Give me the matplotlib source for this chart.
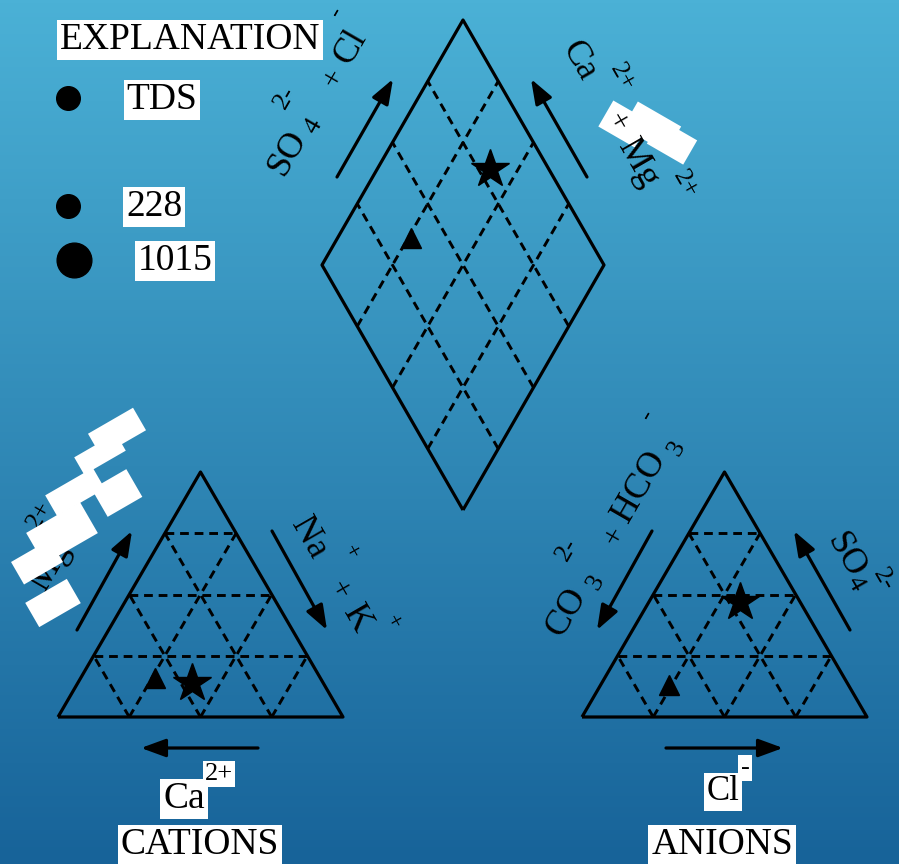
import numpy as np
import matplotlib.pyplot as plt
from matplotlib.patches import Polygon

plt.rcParams['font.family'] = ['Liberation Serif', 'DejaVu Serif']

# ---- data (percent of meq) ----
ca = [58, 46]
mg = [16, 14]
na_k = [26, 40]
hco3 = [63, 21]
so4 = [13, 47]
cl = [24, 32]
sample_markers = ['^', '*']
sample_ms = [14, 29]

tds_labels = ['228', '1015']
tds_ms = [17, 25]

# ---- layout (pixel space) ----
W, H = 285, 245
cat_origin = (58, 717)
an_origin = (582, 717)
dia_bottom = (463, 510)
DW = 141
fracs = [0.25, 0.5, 0.75]


def tri_xy(origin, right, top):
    right = np.asarray(right, float)
    top = np.asarray(top, float)
    return origin[0] + W * (right + top / 2), origin[1] - H * top


def dia_xy(a, c):
    a = np.asarray(a, float)
    c = np.asarray(c, float)
    return dia_bottom[0] + DW * (a - c), dia_bottom[1] - H * (a + c)


fig = plt.figure(figsize=(8.99, 8.64), dpi=100)
ax = fig.add_axes([0, 0, 1, 1])
ax.set_xlim(0, 899)
ax.set_ylim(864, 0)
ax.axis('off')

# background gradient
top_c = np.array([75, 177, 214]) / 255
bot_c = np.array([23, 99, 153]) / 255
t = np.linspace(0, 1, 256)[:, None, None]
grad = top_c * (1 - t) + bot_c * t
grad = np.repeat(grad, 2, axis=1)
ax.imshow(grad, extent=[0, 899, 864, 0], aspect='auto', zorder=0)

solid = dict(color='k', lw=2.3, zorder=3, solid_capstyle='butt')
dash = dict(color='k', lw=2.1, ls=(0, (3, 2)), zorder=2)

# triangles
for org in [cat_origin, an_origin]:
    xs, ys = tri_xy(org, [0, 1, 0, 0], [0, 0, 1, 0])
    ax.plot(xs, ys, **solid)
    for f in fracs:
        x, y = tri_xy(org, [0, 1 - f], [f, f])
        ax.plot(x, y, **dash)
        x, y = tri_xy(org, [f, f], [0, 1 - f])
        ax.plot(x, y, **dash)
        x, y = tri_xy(org, [1 - f, 0], [0, 1 - f])
        ax.plot(x, y, **dash)

# diamond
xs, ys = dia_xy([0, 1, 1, 0, 0], [0, 0, 1, 1, 0])
ax.plot(xs, ys, **solid)
for f in fracs:
    x, y = dia_xy([f, f], [0, 1])
    ax.plot(x, y, **dash)
    x, y = dia_xy([0, 1], [f, f])
    ax.plot(x, y, **dash)

# samples
for i in range(len(ca)):
    tot_c = ca[i] + mg[i] + na_k[i]
    tot_a = hco3[i] + so4[i] + cl[i]
    kw = dict(marker=sample_markers[i], ms=sample_ms[i], color='k', ls='none', zorder=4)
    x, y = tri_xy(cat_origin, na_k[i] / tot_c, mg[i] / tot_c)
    ax.plot(x, y, **kw)
    x, y = tri_xy(an_origin, cl[i] / tot_a, so4[i] / tot_a)
    ax.plot(x, y, **kw)
    x, y = dia_xy((so4[i] + cl[i]) / tot_a, (ca[i] + mg[i]) / tot_c)
    ax.plot(x, y, **kw)

# arrows
arrows = [((337, 177), (393, 79)), ((587, 177), (531, 79)),
          ((77, 630), (132, 531)), ((272, 531), (327, 630)),
          ((258, 748), (141, 748)),
          ((652, 531), (597, 630)), ((850, 630), (794, 531)),
          ((666, 748), (783, 748))]
for tail, head in arrows:
    ax.annotate('', xy=head, xytext=tail,
                arrowprops=dict(arrowstyle='-|>,head_length=0.6,head_width=0.22',
                                mutation_scale=25, lw=2.3, color='k',
                                shrinkA=0, shrinkB=0), zorder=3)

box = dict(boxstyle='square,pad=0.08', fc='white', ec='none')


def label(x, y, s, rot=0, size=26, z=5, boxed=False):
    ax.text(x, y, s, rotation=rot, rotation_mode='anchor', ha='center',
            va='center', fontsize=size, zorder=z, color='k',
            bbox=box if boxed else None)


# legend
label(190, 40, 'EXPLANATION', size=27, boxed=True)
label(162, 100, 'TDS', size=27, boxed=True)
ax.plot(68, 98, 'o', ms=tds_ms[0], color='k', zorder=4)
for i, (lab, ms) in enumerate(zip(tds_labels, tds_ms)):
    yy = 206 + 54 * i
    ax.plot(68 + (ms - tds_ms[0]) * 0.7, yy, 'o', ms=ms, color='k', zorder=4)
    label(154 + 21 * i, yy + 1, lab, size=27, boxed=True)

# diamond labels
label(288, 153, 'SO', 60)
label(314, 126, '4', 60, 19)
label(285, 97, '2-', 60, 19)
label(334, 78, '+', 60, 22)
label(351, 47, 'Cl', 60)
label(336, 12, '-', 60, 19)

label(579, 61, 'Ca', -60)
label(622, 77, '2+', -60, 19)
label(616, 122, '+', -60, 22, z=7)
label(638, 163, 'Mg', -60, z=7)
label(685, 184, '2+', -60, 19)

# cation labels
label(50, 566, 'Mg', 60)
label(40, 515, '2+', 60, 19)
label(309, 538, 'Na', -60)
label(351, 552, '+', -60, 17)
label(338, 590, '+', -60, 22)
label(357, 619, 'K', -60)
label(393, 622, '+', -60, 17)

# anion labels
label(567, 612, 'CO', 60)
label(596, 582, '3', 60, 19)
label(567, 549, '2-', 60, 19)
label(615, 536, '+', 60, 22)
label(640, 487, 'HCO', 60)
label(677, 448, '3', 60, 19)
label(647, 415, '-', 60, 19)
label(846, 556, 'SO', -60)
label(855, 584, '4', -60, 19)
label(884, 580, '2-', -60, 19)

# bottom labels
label(184, 799, 'Ca', size=27, boxed=True)
label(219, 774, '2+', size=19, boxed=True)
label(200, 845, 'CATIONS', size=27, boxed=True)
label(723, 792, 'Cl', size=25, boxed=True)
label(745, 768, '-', size=19, boxed=True)
label(722, 845, 'ANIONS', size=27, boxed=True)

# white label-box remnants: (centre x, centre y, length, thickness, angle)
left_boxes = [(117, 432, 52, 26, 30), (100, 454, 48, 20, 30),
              (117, 493, 40, 32, 30), (75, 492, 55, 24, 30),
              (62, 533, 62, 36, 30), (37, 562, 45, 26, 30),
              (53, 603, 48, 28, 30)]
right_boxes = [(624, 124, 42, 30, -30), (652, 127, 50, 30, -30),
               (672, 142, 42, 28, -30)]
for cx, cy, ln, th, ang in left_boxes + right_boxes:
    a = np.deg2rad(ang)
    d = np.array([np.cos(a), -np.sin(a)])
    n = np.array([np.sin(a), np.cos(a)])
    c = np.array([cx, cy])
    pts = [c - d * ln / 2 - n * th / 2, c + d * ln / 2 - n * th / 2,
           c + d * ln / 2 + n * th / 2, c - d * ln / 2 + n * th / 2]
    ax.add_patch(Polygon(pts, closed=True, fc='white', ec='none', zorder=6))

fig.savefig('out.png', dpi=100)
